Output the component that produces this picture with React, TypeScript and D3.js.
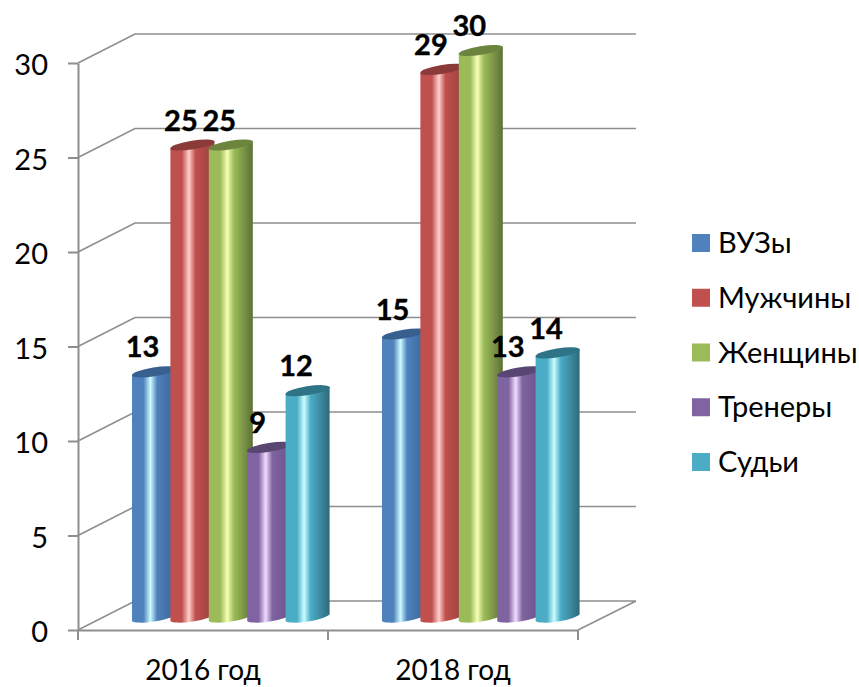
import React, { useEffect, useRef } from 'react';
import * as d3 from 'd3';

const years = ['2016 год', '2018 год'];
const seriesNames = ['ВУЗы', 'Мужчины', 'Женщины', 'Тренеры', 'Судьи'];
const vuz = [13, 15];
const men = [25, 29];
const women = [25, 30];
const coaches = [9, 13];
const judges = [12, 14];
const yTicks = [0, 5, 10, 15, 20, 25, 30];

const seriesValues = [vuz, men, women, coaches, judges];
const baseColors = ['#4f81bd', '#c0504d', '#9bbb59', '#8064a2', '#4bacc6'];
const lightColors = ['#ccfbff', '#ffd0cd', '#f8ffb4', '#f0dcff', '#c8ffff'];
const topColors = ['#37608f', '#8a3a38', '#6c843e', '#5a4673', '#2f7386'];
const edgeColors = ['#3a6595', '#97403d', '#5c7135', '#6a5287', '#2d6a7c'];

const FONT = 'Lato, "Noto Sans", sans-serif';

const App: React.FC = () => {
  const chartRef = useRef<SVGSVGElement>(null);

  useEffect(() => {
    if (!chartRef.current) return;
    const svg = d3.select(chartRef.current);
    svg.selectAll('*').remove();

    const depthX = 57;
    const depthY = -29;
    const axisColor = '#8e8e8e';

    const yScale = d3.scaleLinear().domain([0, 30]).range([630, 63]);
    const xBand = d3.scaleBand().domain(years).range([78, 578]);
    const seriesPos = d3.scaleLinear().domain([0, 4]).range([54, 207.6]);
    const barWidth = 44;

    // Gradients for the cylinders
    const defs = svg.append('defs');
    baseColors.forEach((c, i) => {
      const grad = defs.append('linearGradient')
        .attr('id', `cyl-${i}`)
        .attr('x1', '0%').attr('x2', '100%')
        .attr('y1', '0%').attr('y2', '0%');
      grad.append('stop').attr('offset', '0%').attr('stop-color', c);
      grad.append('stop').attr('offset', '26%').attr('stop-color', c);
      grad.append('stop').attr('offset', '42%').attr('stop-color', lightColors[i]);
      grad.append('stop').attr('offset', '57%').attr('stop-color', c);
      grad.append('stop').attr('offset', '100%').attr('stop-color', edgeColors[i]);
    });

    // Back wall gridlines and side wall
    const grid = svg.append('g')
      .attr('fill', 'none')
      .attr('stroke', axisColor)
      .attr('stroke-width', 1.6);
    yTicks.forEach(t => {
      const path = d3.path();
      path.moveTo(78, yScale(t));
      path.lineTo(78 + depthX, yScale(t) + depthY);
      path.lineTo(578 + depthX + 1, yScale(t) + depthY);
      grid.append('path')
        .attr('d', t === 0 ? path.toString() + `M578,${yScale(0)}L${578 + depthX + 1},${yScale(0) + depthY}` : path.toString());
    });

    // Y axis
    const yAxis = d3.axisLeft(yScale).tickValues(yTicks).tickSize(10).tickPadding(20).tickSizeOuter(0);
    const yG = svg.append('g').attr('transform', 'translate(78,0)').call(yAxis);
    yG.select('.domain').attr('stroke', axisColor).attr('stroke-width', 2);
    yG.selectAll('.tick line').attr('stroke', axisColor).attr('stroke-width', 2);
    yG.selectAll('.tick text')
      .attr('fill', '#000')
      .attr('font-family', FONT)
      .attr('font-size', 29)
      .attr('dy', '0.40em');

    // X axis
    const xAxis = d3.axisBottom(xBand).tickSize(0).tickPadding(30).tickSizeOuter(0);
    const xG = svg.append('g').attr('transform', `translate(0,${yScale(0)})`).call(xAxis);
    xG.select('.domain').attr('stroke', axisColor).attr('stroke-width', 2);
    xG.selectAll('.tick text')
      .attr('fill', '#000')
      .attr('font-family', FONT)
      .attr('font-size', 28);
    const boundaries = [78, (xBand(years[1]) || 0), 578];
    xG.selectAll('.bound')
      .data(boundaries)
      .enter().append('line')
      .attr('class', 'bound')
      .attr('x1', d => d).attr('x2', d => d)
      .attr('y1', 0).attr('y2', 10)
      .attr('stroke', axisColor)
      .attr('stroke-width', 2);

    // Cylinders, drawn left to right so each one overlaps the previous
    const slant = 7;
    const rx = 22.4;
    const ry = 4.4;
    const tilt = -9;
    const barBase = yScale(0) - 9;
    const unit = yScale(0) - yScale(1);

    years.forEach((year, yi) => {
      seriesValues.forEach((values, si) => {
        const x0 = (xBand(year) || 0) + seriesPos(si);
        const x1 = x0 + barWidth;
        const top = barBase - values[yi] * unit;
        const g = svg.append('g');
        g.append('path')
          .attr('d', `M${x0},${top}L${x0},${barBase}A${rx},${ry} ${tilt} 0 0 ${x1},${barBase - slant}L${x1},${top - slant}Z`)
          .attr('fill', `url(#cyl-${si})`);
        g.append('ellipse')
          .attr('cx', 0).attr('cy', 0)
          .attr('rx', rx).attr('ry', ry)
          .attr('transform', `translate(${(x0 + x1) / 2},${top - slant / 2}) rotate(${tilt})`)
          .attr('fill', topColors[si]);
      });
    });

    // Value labels
    years.forEach((year, yi) => {
      seriesValues.forEach((values, si) => {
        const x0 = (xBand(year) || 0) + seriesPos(si);
        const top = barBase - values[yi] * unit;
        svg.append('text')
          .attr('x', x0 + barWidth / 2 - 11.5)
          .attr('y', top - 28)
          .attr('dy', '0.35em')
          .attr('text-anchor', 'middle')
          .attr('font-family', FONT)
          .attr('font-size', 29)
          .attr('font-weight', 700)
          .attr('stroke', '#000')
          .attr('stroke-width', 0.4)
          .attr('fill', '#000')
          .text(values[yi]);
      });
    });

    // Legend
    const legendY = d3.scaleLinear().domain([0, 4]).range([243, 462]);
    const legend = svg.selectAll('.legend')
      .data(seriesNames)
      .enter().append('g')
      .attr('class', 'legend')
      .attr('transform', (d, i) => `translate(692,${legendY(i)})`);
    legend.append('rect')
      .attr('x', 0).attr('y', -9)
      .attr('width', 18).attr('height', 18)
      .attr('fill', (d, i) => baseColors[i]);
    legend.append('text')
      .attr('x', 26)
      .attr('y', 0)
      .attr('dy', '0.35em')
      .attr('font-family', FONT)
      .attr('font-size', 29)
      .attr('fill', '#000')
      .text(d => d);
  }, []);

  return (
    <svg
      ref={chartRef}
      width={859}
      height={687}
      style={{ position: 'absolute', left: 0, top: 0, background: '#fff' }}
    />
  );
};

export default App;
